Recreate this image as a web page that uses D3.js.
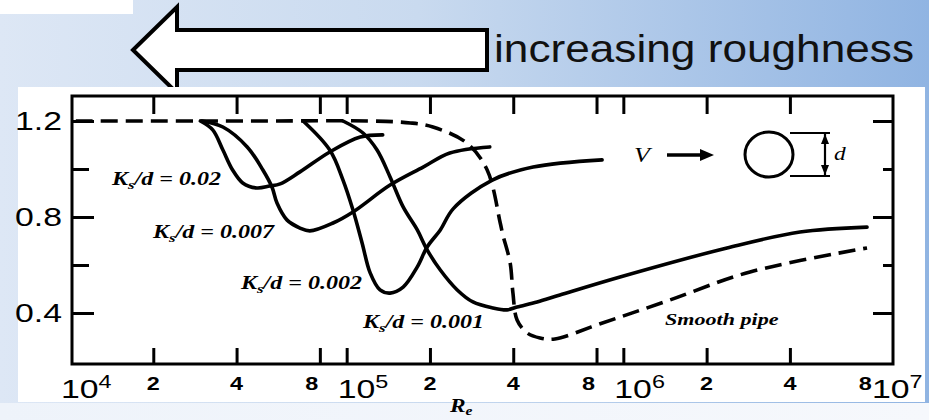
<!DOCTYPE html>
<html><head><meta charset="utf-8">
<script src="https://cdn.jsdelivr.net/npm/d3@7"></script>
<style>html,body{margin:0;padding:0;overflow:hidden;background:#fff}</style>
</head><body>
<svg id="c" width="929" height="420"></svg>
<script>
// ---------------- data ----------------
const smoothRe = [1.05e4, 5e4, 1.2e5, 1.7e5, 2.05e5, 2.72e5, 3.22e5, 3.59e5, 3.67e5, 3.9e5, 3.99e5, 4.13e5, 4.49e5, 5.0e5, 5.66e5, 8.2e5, 1.44e6, 2.87e6, 7.6e6];
const smoothCd = [1.2, 1.2, 1.2, 1.192, 1.175, 1.108, 0.996, 0.775, 0.725, 0.608, 0.483, 0.371, 0.317, 0.296, 0.292, 0.354, 0.450, 0.571, 0.671];

const re02 = [2.96e4, 3.28e4, 3.57e4, 3.87e4, 4.21e4, 4.73e4, 5.27e4, 5.75e4, 6.78e4, 8.69e4, 1.12e5, 1.35e5];
const cd02 = [1.2, 1.163, 1.079, 0.996, 0.942, 0.921, 0.929, 0.938, 0.988, 1.071, 1.133, 1.142];

const re007 = [3.0e4, 3.57e4, 4.37e4, 4.98e4, 5.37e4, 5.6e4, 6.08e4, 6.78e4, 7.36e4, 8.93e4, 1.054e5, 1.435e5, 1.89e5, 2.36e5, 3.29e5];
const cd007 = [1.2, 1.175, 1.092, 0.996, 0.925, 0.858, 0.788, 0.754, 0.742, 0.775, 0.821, 0.933, 1.008, 1.067, 1.092];

const re002 = [6.96e4, 8.69e4, 9.7e4, 1.054e5, 1.137e5, 1.216e5, 1.32e5, 1.435e5, 1.6e5, 1.8e5, 1.954e5, 2.18e5, 2.43e5, 3.36e5, 4.72e5, 8.38e5];
const cd002 = [1.2, 1.079, 0.954, 0.829, 0.692, 0.567, 0.496, 0.483, 0.508, 0.592, 0.675, 0.746, 0.835, 0.954, 1.008, 1.038];

const re001 = [9.7e4, 1.146e5, 1.288e5, 1.435e5, 1.6e5, 1.8e5, 1.954e5, 2.18e5, 2.51e5, 2.86e5, 3.38e5, 3.8e5, 4.13e5, 4.88e5, 5.9e5, 9.73e5, 2.37e6, 4.35e6, 7.6e6];
const cd001 = [1.2, 1.15, 1.079, 0.967, 0.842, 0.746, 0.663, 0.579, 0.496, 0.446, 0.421, 0.413, 0.425, 0.446, 0.475, 0.55, 0.671, 0.7375, 0.758];

const seriesNames = ["0.02", "0.007", "0.002", "0.001"];

const xTickValues = [2e4, 4e4, 8e4, 1e5, 2e5, 4e5, 8e5, 1e6, 2e6, 4e6];
const xMinorLabelValues = [2e4, 4e4, 8e4, 2e5, 4e5, 8e5, 2e6, 4e6, 8e6];
const xMinorLabelText = ["2", "4", "8", "2", "4", "8", "2", "4", "8"];
const xDecadeValues = [1e4, 1e5, 1e6, 1e7];
const xDecadeExp = ["4", "5", "6", "7"];
const yMajorTicks = [0.4, 0.8, 1.2];
const yMinorTicks = [0.6, 1.0];
const yLabelText = ["0.4", "0.8", "1.2"];

// ---------------- layout ----------------
const W = 929, H = 420, SX = 1.3;
const frame = {left: 72, right: 893, top: 96, bottom: 364};
const svg = d3.select("#c");
const x = d3.scaleLog().domain([1e4, 1e7]).range([70, 900]);
const y = d3.scaleLinear().domain([0.4, 1.2]).range([313, 121]);

const defs = svg.append("defs");
const g1 = defs.append("linearGradient").attr("id", "bg").attr("x1", 0).attr("x2", 1).attr("y1", 0).attr("y2", 0);
g1.append("stop").attr("offset", 0).attr("stop-color", "#dde7f5");
g1.append("stop").attr("offset", 0.45).attr("stop-color", "#c9daef");
g1.append("stop").attr("offset", 1).attr("stop-color", "#90b4e2");
const g2 = defs.append("linearGradient").attr("id", "bg2").attr("x1", 0).attr("x2", 1);
g2.append("stop").attr("offset", 0).attr("stop-color", "#eef3fa");
g2.append("stop").attr("offset", 1).attr("stop-color", "#f6f8fc");

svg.append("rect").attr("width", W).attr("height", H).attr("fill", "url(#bg)");
svg.append("rect").attr("y", 403).attr("width", W).attr("height", H - 403).attr("fill", "url(#bg2)");
svg.append("rect").attr("width", 133).attr("height", 14).attr("fill", "#fff");

// big arrow
svg.append("polygon")
  .attr("points", [[133,50],[177,7],[177,30],[487,30],[487,70],[177,70],[177,93]].map(p => p.join(",")).join(" "))
  .attr("fill", "#fff").attr("stroke", "#000").attr("stroke-width", 4).attr("stroke-linejoin", "miter");
svg.append("text").attr("x", 494).attr("y", 62).text("increasing roughness")
  .attr("font-family", "'Liberation Sans', Arial, sans-serif").attr("font-size", 39)
  .attr("fill", "#111").attr("textLength", 420).attr("lengthAdjust", "spacingAndGlyphs");

// white panel
svg.append("rect").attr("x", 18).attr("y", 87).attr("width", 907).attr("height", 315).attr("fill", "#fff");

// frame
svg.append("rect").attr("x", frame.left).attr("y", frame.top)
  .attr("width", frame.right - frame.left).attr("height", frame.bottom - frame.top)
  .attr("fill", "none").attr("stroke", "#000").attr("stroke-width", 3);

function styleAxis(sel) {
  sel.select(".domain").remove();
  sel.selectAll(".tick line").attr("stroke", "#000").attr("stroke-width", 3);
  sel.selectAll(".tick text").remove();
}
svg.append("g").attr("transform", `translate(0,${frame.bottom})`)
  .call(d3.axisBottom(x).tickValues(xTickValues).tickSize(-16).tickFormat("")).call(styleAxis);
svg.append("g").attr("transform", `translate(0,${frame.top})`)
  .call(d3.axisTop(x).tickValues(xTickValues).tickSize(-18).tickFormat("")).call(styleAxis);
svg.append("g").attr("transform", `translate(${frame.left},0)`)
  .call(d3.axisLeft(y).tickValues(yMajorTicks).tickSize(-22).tickFormat("")).call(styleAxis);
svg.append("g").attr("transform", `translate(${frame.left},0)`)
  .call(d3.axisLeft(y).tickValues(yMinorTicks).tickSize(-17).tickFormat("")).call(styleAxis);
svg.append("g").attr("transform", `translate(${frame.right},0)`)
  .call(d3.axisRight(y).tickValues(yMajorTicks).tickSize(-20).tickFormat("")).call(styleAxis);
svg.append("g").attr("transform", `translate(${frame.right},0)`)
  .call(d3.axisRight(y).tickValues(yMinorTicks).tickSize(-10).tickFormat("")).call(styleAxis);

// stretched text helper (scan is horizontally stretched)
function stext(px, py, anchor, size, family, weight, style) {
  return svg.append("text")
    .attr("transform", `translate(${px},${py}) scale(${SX},1)`)
    .attr("text-anchor", anchor).attr("font-size", size)
    .attr("font-family", family).attr("font-weight", weight || "normal")
    .attr("font-style", style || "normal").attr("fill", "#000");
}
const SANS = "'Liberation Sans', Arial, sans-serif";
const SERIF = "'Liberation Serif', 'Times New Roman', serif";

// y labels
yMajorTicks.forEach((v, i) => {
  stext(62, y(v) + 9, "end", 26, SANS).text(yLabelText[i]);
});
// x minor labels
xMinorLabelValues.forEach((v, i) => {
  const off = xMinorLabelText[i] === "8" ? -8 : 0;
  stext(x(v) + off, 390, "middle", 18, SANS, "bold").text(xMinorLabelText[i]);
});
// decade labels
xDecadeValues.forEach((v, i) => {
  const left = Math.min(x(v) - 9, 872);
  const t = stext(left, 398, "start", 26, SANS);
  t.append("tspan").text("10");
  t.append("tspan").attr("font-size", 18).attr("dy", -10).text(xDecadeExp[i]);
});
// axis title
const rt = stext(450, 412, "start", 18, SERIF, "bold", "italic");
rt.append("tspan").text("R");
rt.append("tspan").attr("font-size", 12).attr("dy", 3).text("e");

// curves
const line = d3.line().x(d => x(d[0])).y(d => y(d[1])).curve(d3.curveCatmullRom.alpha(0.5));
const solids = [[re02, cd02], [re007, cd007], [re002, cd002], [re001, cd001]];
solids.forEach(s => {
  svg.append("path").attr("d", line(d3.zip(s[0], s[1])))
    .attr("fill", "none").attr("stroke", "#000").attr("stroke-width", 3.6)
    .attr("stroke-linecap", "round").attr("stroke-linejoin", "round");
});
svg.append("path").attr("d", line(d3.zip(smoothRe, smoothCd)))
  .attr("fill", "none").attr("stroke", "#000").attr("stroke-width", 3.6)
  .attr("stroke-dasharray", "17,8");

// curve labels
const labelPos = [[112, 185, "start"], [153, 238, "start"], [362, 289, "end"], [363, 328, "start"]];
seriesNames.forEach((n, i) => {
  const p = labelPos[i];
  const t = stext(p[0], p[1], p[2], 18.5, SERIF, "bold", "italic");
  t.append("tspan").text("K");
  t.append("tspan").attr("font-size", 13).attr("dy", 4).text("s");
  t.append("tspan").attr("dy", -4).text("/d = " + n);
});
stext(665, 325, "start", 17, SERIF, "bold", "italic").text("Smooth pipe");

// pipe icon
stext(642, 162, "middle", 20, SERIF, "normal", "italic").text("V");
svg.append("line").attr("x1", 667).attr("x2", 702).attr("y1", 155).attr("y2", 155)
  .attr("stroke", "#000").attr("stroke-width", 3.5);
svg.append("polygon").attr("points", "700,149 714,155 700,161").attr("fill", "#000");
svg.append("ellipse").attr("cx", 769).attr("cy", 154.5).attr("rx", 24).attr("ry", 22.5)
  .attr("fill", "none").attr("stroke", "#000").attr("stroke-width", 3);
svg.append("path").attr("d", "M790,133H830M790,176H830M825,133V176")
  .attr("stroke", "#000").attr("stroke-width", 2.2).attr("fill", "none");
svg.append("polygon").attr("points", "825,134 821,144 829,144").attr("fill", "#000");
svg.append("polygon").attr("points", "825,175 821,165 829,165").attr("fill", "#000");
stext(834, 160, "start", 18, SERIF, "normal", "italic").text("d");
</script></body></html>
